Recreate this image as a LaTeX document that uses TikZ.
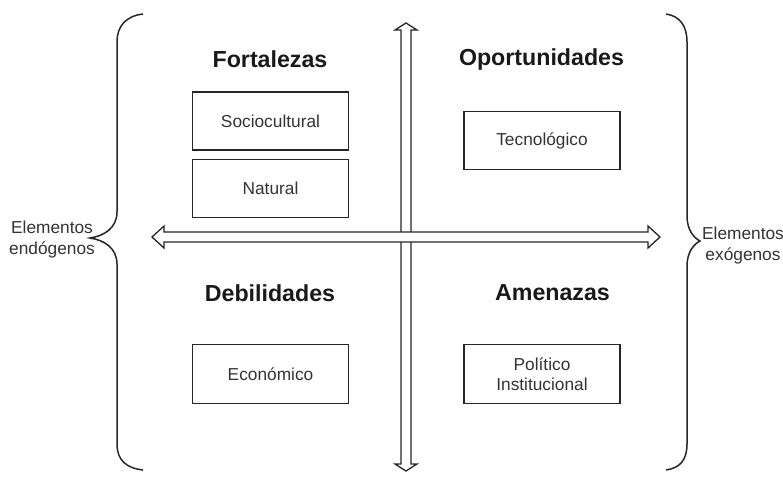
\documentclass[tikz,border=0pt]{standalone}
\usepackage{fontspec}
\setmainfont{Liberation Sans}
\begin{document}
\begin{tikzpicture}[x=1pt,y=-1pt,
  boxnode/.style={draw=black!85,line width=1.5pt,minimum width=156pt,minimum height=58pt,inner sep=0pt,align=center,font=\fontsize{17.3}{20}\selectfont,text=black!80},
  titlenode/.style={font=\fontsize{23.2}{26}\selectfont\bfseries,text=black!90},
  sidenode/.style={align=center,font=\fontsize{17.3}{21}\selectfont,text=black!80},
  bracestyle/.style={draw=black!85,line width=1.5pt},
  arrowstyle/.style={draw=black!85,line width=1.3pt,fill=white,line join=miter}]
\useasboundingbox (0,0) rectangle (783,477);
% braces
\draw[bracestyle] (143,14) .. controls (126,16) and (117,26) .. (117,42) -- (117,212)
  .. controls (117,228) and (104,236) .. (90,238)
  .. controls (104,240) and (117,248) .. (117,264) -- (117,444)
  .. controls (117,460) and (126,468) .. (143,470);
\draw[bracestyle] (666,14) .. controls (680,16) and (687,26) .. (687,42) -- (687,216)
  .. controls (687,230) and (694,238) .. (700,241)
  .. controls (694,244) and (687,252) .. (687,266) -- (687,444)
  .. controls (687,460) and (680,468) .. (666,470);
% vertical double arrow
\coordinate (vt) at (406,23);
\coordinate (vb) at (406,471);
\draw[arrowstyle] (vt) -- (417,30) -- (411,30) -- (411,464) -- (417,464) -- (vb)
  -- (395,464) -- (401,464) -- (401,30) -- (395,30) -- cycle;
% horizontal double arrow
\coordinate (hl) at (152,237);
\coordinate (hr) at (660,237);
\draw[arrowstyle] (hl) -- (164,226) -- (164,232) -- (648,232) -- (648,226) -- (hr)
  -- (648,248) -- (648,242) -- (164,242) -- (164,248) -- cycle;
% titles
\node[titlenode] (fort) at (270,59) {Fortalezas};
\node[titlenode] (opor) at (541.5,59) {Oportunidades};
\node[titlenode] (debi) at (270,293) {Debilidades};
\node[titlenode] (amen) at (552.5,293) {Amenazas};
% boxes
\node[boxnode] (socio) at (270.5,121) {Sociocultural};
\node[boxnode] (natur) at (270.5,188.5) {Natural};
\node[boxnode] (tecno) at (542,140.5) {Tecnológico};
\node[boxnode,minimum height=59pt] (econo) at (270.5,374) {Económico};
\node[boxnode,minimum height=59pt] (polit) at (542,374) {Político\\Institucional};
% side labels
\node[sidenode] (endo) at (52,240) {Elementos\\endógenos};
\node[sidenode] (exo) at (743,246) {Elementos\\exógenos};
\end{tikzpicture}
\end{document}
